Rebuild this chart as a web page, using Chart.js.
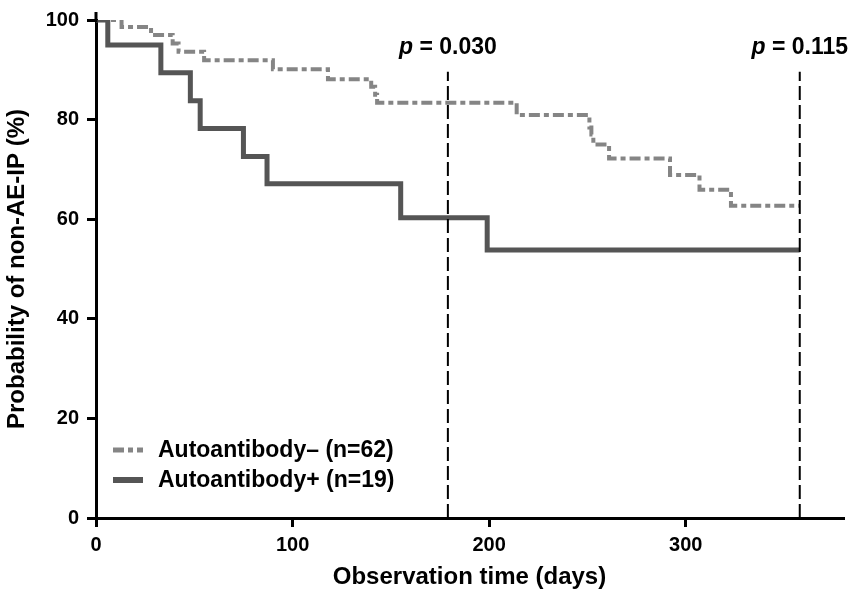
<!DOCTYPE html>
<html>
<head>
<meta charset="utf-8">
<script src="https://cdn.jsdelivr.net/npm/chart.js@4.4.1/dist/chart.umd.min.js"></script>
<style>
  html, body { margin: 0; padding: 0; background: #fff; }
  #wrap { width: 851px; height: 595px; }
</style>
</head>
<body>
<div id="wrap"><canvas id="km" width="851" height="595"></canvas></div>
<script>
// Kaplan-Meier: Autoantibody- (n=62)
var negDays = [0, 13, 28, 39, 42, 55, 90, 118, 140, 142, 143, 214, 251, 252, 253, 261, 292, 307, 323, 358];
var negSurv = [100, 98.6, 97.0, 95.3, 93.6, 91.9, 90.1, 88.1, 86.6, 85.0, 83.4, 80.9, 78.4, 77.0, 75.0, 72.2, 68.9, 65.9, 62.7, 62.7];

// Kaplan-Meier: Autoantibody+ (n=19)
var posDays = [0, 6, 33, 48, 53, 75, 87, 155, 199, 358];
var posSurv = [100, 95.0, 89.4, 83.8, 78.2, 72.6, 67.1, 60.3, 53.8, 53.8];

var seriesLabels = ['Autoantibody\u2013 (n=62)', 'Autoantibody+ (n=19)'];

// landmark lines + p values
var cutDays = [179, 358];
var cutTop = [89.6, 89.6];
var pValues = ['0.030', '0.115'];

var xTicks = [0, 100, 200, 300];
var yTicks = [0, 20, 40, 60, 80, 100];

var FONT = "'Liberation Sans', Arial, sans-serif";

function pts(xs, ys) {
    return xs.map(function (x, i) { return { x: x, y: ys[i] }; });
}

var datasets = [{
    label: seriesLabels[0],
    data: pts(negDays, negSurv),
    borderColor: '#858585',
    borderWidth: 4,
    borderDash: [11, 4, 5, 4],
    stepped: true,
    pointRadius: 0,
    fill: false,
    order: 2,
    clip: 0
}, {
    label: seriesLabels[1],
    data: pts(posDays, posSurv),
    borderColor: '#555555',
    borderWidth: 5,
    stepped: true,
    pointRadius: 0,
    fill: false,
    order: 1
}];

cutDays.forEach(function (d, i) {
    datasets.push({
        label: 'cut' + i,
        data: [{ x: d, y: 0 }, { x: d, y: cutTop[i] }],
        borderColor: '#000',
        borderWidth: 2,
        borderDash: [14, 5],
        pointRadius: 0,
        fill: false,
        order: 0,
        isCut: true
    });
});

// p = ... labels above the dashed lines
var pLabels = {
    id: 'pLabels',
    afterDatasetsDraw: function (chart) {
        var ctx = chart.ctx;
        var xs = chart.scales.x, ys = chart.scales.y;
        ctx.save();
        ctx.fillStyle = '#000';
        ctx.textBaseline = 'alphabetic';
        cutDays.forEach(function (d, i) {
            ctx.font = 'italic bold 23px ' + FONT;
            var wp = ctx.measureText('p').width;
            ctx.font = 'bold 23px ' + FONT;
            var rest = ' = ' + pValues[i];
            var wr = ctx.measureText(rest).width;
            var total = wp + wr;
            var cx = xs.getPixelForValue(d);
            var x0 = cx - total / 2;
            if (x0 + total > chart.width - 2) x0 = chart.width - 2 - total;
            var y = ys.getPixelForValue(cutTop[i]) - 18;
            ctx.font = 'italic bold 23px ' + FONT;
            ctx.fillText('p', x0, y);
            ctx.font = 'bold 23px ' + FONT;
            ctx.fillText(rest, x0 + wp, y);
        });
        ctx.restore();
    }
};

// legend in lower-left of plot, plus the little axis overshoot at the top
var kmLegend = {
    id: 'kmLegend',
    afterDraw: function (chart) {
        var ctx = chart.ctx;
        var a = chart.chartArea;
        ctx.save();
        ctx.strokeStyle = '#000';
        ctx.lineWidth = 3;
        ctx.beginPath();
        ctx.moveTo(a.left, a.top + 2);
        ctx.lineTo(a.left, a.top - 8);
        ctx.stroke();

        var rows = chart.data.datasets.filter(function (d) { return !d.isCut; });
        rows.forEach(function (ds, i) {
            var y = a.bottom - 68 + i * 30;
            ctx.beginPath();
            ctx.strokeStyle = ds.borderColor;
            ctx.lineWidth = ds.borderWidth + 1;
            ctx.setLineDash(ds.borderDash || []);
            ctx.moveTo(a.left + 17, y);
            ctx.lineTo(a.left + 47, y);
            ctx.stroke();
            ctx.setLineDash([]);
            ctx.fillStyle = '#000';
            ctx.font = 'bold 23px ' + FONT;
            ctx.textBaseline = 'middle';
            ctx.fillText(ds.label, a.left + 62, y + 1);
        });
        ctx.restore();
    }
};

var ctx = document.getElementById('km').getContext('2d');
var chart = new Chart(ctx, {
    type: 'line',
    data: { datasets: datasets },
    options: {
        responsive: false,
        animation: false,
        layout: { padding: { top: 20, right: 8, left: 0, bottom: 0 } },
        plugins: {
            legend: { display: false },
            tooltip: { enabled: false }
        },
        scales: {
            x: {
                type: 'linear',
                min: 0,
                max: 380,
                afterBuildTicks: function (s) { s.ticks = xTicks.map(function (v) { return { value: v }; }); },
                afterFit: function (s) { s.height = 77; },
                grid: { drawOnChartArea: false, drawTicks: true, tickLength: 9, color: '#000', lineWidth: 3 },
                border: { display: true, color: '#000', width: 3 },
                ticks: { color: '#000', font: { family: FONT, size: 20, weight: 'bold' }, padding: 6, maxRotation: 0 },
                title: {
                    display: true,
                    text: 'Observation time (days)',
                    color: '#000',
                    font: { family: FONT, size: 24, weight: 'bold' },
                    padding: { top: 0, bottom: 3 }
                }
            },
            y: {
                min: 0,
                max: 100,
                afterBuildTicks: function (s) { s.ticks = yTicks.map(function (v) { return { value: v }; }); },
                afterFit: function (s) { s.width = 96; },
                grid: { drawOnChartArea: false, drawTicks: true, tickLength: 9, color: '#000', lineWidth: 3 },
                border: { display: true, color: '#000', width: 3 },
                ticks: { color: '#000', font: { family: FONT, size: 20, weight: 'bold' }, padding: 8 },
                title: {
                    display: true,
                    text: 'Probability of non-AE-IP (%)',
                    color: '#000',
                    font: { family: FONT, size: 24, weight: 'bold' },
                    padding: { top: 3, bottom: 0 }
                }
            }
        }
    },
    plugins: [pLabels, kmLegend]
});
</script>
</body>
</html>
